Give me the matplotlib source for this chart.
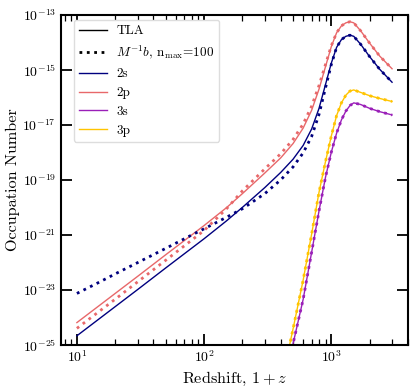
import matplotlib
matplotlib.use('Agg')
import matplotlib.pyplot as plt
import matplotlib.ticker as mticker
import numpy as np

plt.rcParams['font.family'] = 'serif'
plt.rcParams['font.serif'] = ['cmr10']
plt.rcParams['mathtext.fontset'] = 'cm'
plt.rcParams['axes.formatter.use_mathtext'] = True
plt.rcParams['axes.unicode_minus'] = False

# redshift grid (1+z)
z_low = [10, 15, 20, 30, 50, 75, 100, 150, 200, 300, 400, 500, 600, 700, 800,
         900, 1000, 1100, 1200, 1300, 1400, 1500, 1700, 2000, 2400, 3000]
z_high = [450, 500, 600, 700, 800, 900, 1000, 1100, 1200, 1300, 1400, 1500,
          1700, 2000, 2400, 3000]

# log10 occupation numbers
tla_2s = [-24.67, -24.05, -23.61, -22.99, -22.20, -21.58, -21.14, -20.49, -20.00,
          -19.28, -18.73, -18.25, -17.75, -17.15, -16.40, -15.53, -14.75, -14.18,
          -13.90, -13.78, -13.74, -13.78, -14.07, -14.52, -14.98, -15.45]
tla_2p = [-24.19, -23.57, -23.13, -22.51, -21.72, -21.10, -20.66, -20.01, -19.50,
          -18.75, -18.20, -17.68, -17.12, -16.47, -15.70, -14.88, -14.15, -13.65,
          -13.40, -13.29, -13.25, -13.29, -13.58, -14.03, -14.50, -14.96]
mb_2s = [-23.13, -22.72, -22.42, -22.01, -21.49, -21.07, -20.78, -20.36, -20.05,
         -19.50, -19.00, -18.53, -18.02, -17.42, -16.62, -15.65, -14.80, -14.18,
         -13.90, -13.78, -13.74, -13.78, -14.07, -14.52, -14.98, -15.45]
mb_2p = [-24.40, -23.78, -23.34, -22.71, -21.92, -21.29, -20.84, -20.05, -19.40,
         -18.60, -18.05, -17.53, -16.97, -16.32, -15.57, -14.80, -14.12, -13.65,
         -13.40, -13.29, -13.25, -13.29, -13.58, -14.03, -14.50, -14.96]
tla_3s = [-25.90, -24.96, -23.35, -21.63, -20.13, -18.90, -17.99, -17.30, -16.82,
          -16.50, -16.30, -16.20, -16.26, -16.40, -16.52, -16.64]
tla_3p = [-25.40, -24.42, -22.65, -20.97, -19.45, -18.33, -17.40, -16.66, -16.20,
          -15.92, -15.77, -15.73, -15.82, -15.94, -16.04, -16.15]
mb_3s = tla_3s
mb_3p = tla_3p

NAVY = '#00007f'
RED = '#e8686a'
PURPLE = '#9a1fb8'
GOLD = '#ffc400'

fig = plt.figure(figsize=(4.15, 3.91), dpi=100)
ax = fig.add_axes([0.147, 0.118, 0.836, 0.844])


def p(v):
    return 10.0 ** np.array(v)


ax.plot(z_low, p(tla_2s), color=NAVY, lw=1.0)
ax.plot(z_low, p(tla_2p), color=RED, lw=1.0)
ax.plot(z_high, p(tla_3s), color=PURPLE, lw=1.0)
ax.plot(z_high, p(tla_3p), color=GOLD, lw=1.0)
ax.plot(z_low, p(mb_2s), color=NAVY, lw=2.0, ls=':')
ax.plot(z_low, p(mb_2p), color=RED, lw=2.0, ls=':')
ax.plot(z_high, p(mb_3s), color=PURPLE, lw=2.0, ls=':')
ax.plot(z_high, p(mb_3p), color=GOLD, lw=2.0, ls=':')

# legend proxies
ax.plot([], [], color='k', lw=1.0, label='TLA')
ax.plot([], [], color='k', lw=2.0, ls=':', label=r'$M^{-1}b$, n$_{\rm max}$=100')
ax.plot([], [], color=NAVY, lw=1.0, label='2s')
ax.plot([], [], color=RED, lw=1.0, label='2p')
ax.plot([], [], color=PURPLE, lw=1.0, label='3s')
ax.plot([], [], color=GOLD, lw=1.0, label='3p')

ax.set_xscale('log')
ax.set_yscale('log')
ax.set_xlim(7.5, 4000)
ax.set_ylim(1e-25, 1e-13)
ax.set_yticks([10.0 ** k for k in range(-25, -12, 2)])
ax.yaxis.set_minor_locator(mticker.NullLocator())

ax.set_xlabel(r'Redshift, $1+z$', fontsize=11.7, labelpad=3)
ax.set_ylabel('Occupation Number', fontsize=11.7, labelpad=2)

ax.tick_params(which='both', direction='in', top=True, right=True, labelsize=10)
ax.tick_params(which='major', length=8, width=1.3)
ax.tick_params(which='minor', length=4, width=0.9)
for s in ax.spines.values():
    s.set_linewidth(1.5)

ax.legend(loc='upper left', bbox_to_anchor=(0.037, 0.985), borderaxespad=0,
          fontsize=9.5, handlelength=2.1, handletextpad=0.7, labelspacing=0.5,
          framealpha=1.0, edgecolor='#dddddd')

fig.savefig('out.png', dpi=100)
